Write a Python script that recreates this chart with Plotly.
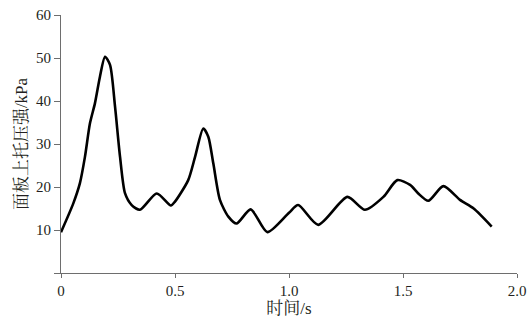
import plotly.graph_objects as go

time_s = [0, 0.054, 0.083, 0.105, 0.127, 0.149, 0.171, 0.193, 0.215, 0.237, 0.259,
          0.281, 0.31, 0.346, 0.42, 0.482, 0.5, 0.558, 0.588, 0.624, 0.646, 0.668,
          0.697, 0.734, 0.77, 0.832, 0.905, 1.0, 1.04, 1.128, 1.256, 1.333, 1.414,
          1.475, 1.531, 1.567, 1.611, 1.677, 1.75, 1.81, 1.889]
pressure_kpa = [9.5, 16.2, 20.9, 27.0, 34.8, 39.5, 45.7, 50.3, 48.4, 38.7, 27.0,
                18.5, 15.8, 14.7, 18.5, 15.7, 16.6, 21.6, 27.0, 33.6, 31.7, 25.5,
                17.0, 13.1, 11.5, 14.8, 9.5, 14.0, 15.8, 11.2, 17.7, 14.7, 17.7,
                21.6, 20.5, 18.5, 16.8, 20.2, 17.0, 15.0, 10.8]

x_ticks = [0, 0.5, 1.0, 1.5, 2.0]
x_tick_text = ["0", "0.5", "1.0", "1.5", "2.0"]
y_ticks = [0, 10, 20, 30, 40, 50, 60]
y_tick_text = ["", "10", "20", "30", "40", "50", "60"]

font_fam = "Liberation Serif"
cjk_fam = "Liberation Serif, Noto Serif CJK SC, Noto Sans CJK SC"
txt = "#231f20"
axc = "#6e6e6e"

fig = go.Figure(go.Scatter(
    x=time_s, y=pressure_kpa, mode="lines",
    line=dict(color="black", width=2.6, shape="spline", smoothing=0.7),
    hoverinfo="skip", showlegend=False))

fig.update_layout(
    width=532, height=326,
    margin=dict(l=61, r=15, t=15, b=53),
    paper_bgcolor="white", plot_bgcolor="white",
    font=dict(family=font_fam, size=15, color=txt),
)
fig.update_xaxes(
    range=[0, 2.0], tickvals=x_ticks, ticktext=x_tick_text, automargin=False,
    showline=True, linecolor=axc, linewidth=1, ticks="outside", ticklen=4,
    tickcolor=axc, showgrid=False, zeroline=False,
    tickfont=dict(family=font_fam, size=15, color=txt),
    title=dict(text="时间/s", font=dict(size=17, family=cjk_fam, color=txt), standoff=1),
)
fig.update_yaxes(
    range=[0, 60], tickvals=y_ticks, ticktext=y_tick_text, automargin=False,
    showline=True, linecolor=axc, linewidth=1, ticks="outside", ticklen=6,
    tickcolor=axc, showgrid=False, zeroline=False,
    tickfont=dict(family=font_fam, size=15, color=txt),
    title=dict(text="面板上托压强/kPa", font=dict(size=17, family=cjk_fam, color=txt), standoff=4),
)
fig.write_html("out.html", config={"displayModeBar": False},
               post_script="document.body.style.margin='0';document.body.style.padding='0';")
